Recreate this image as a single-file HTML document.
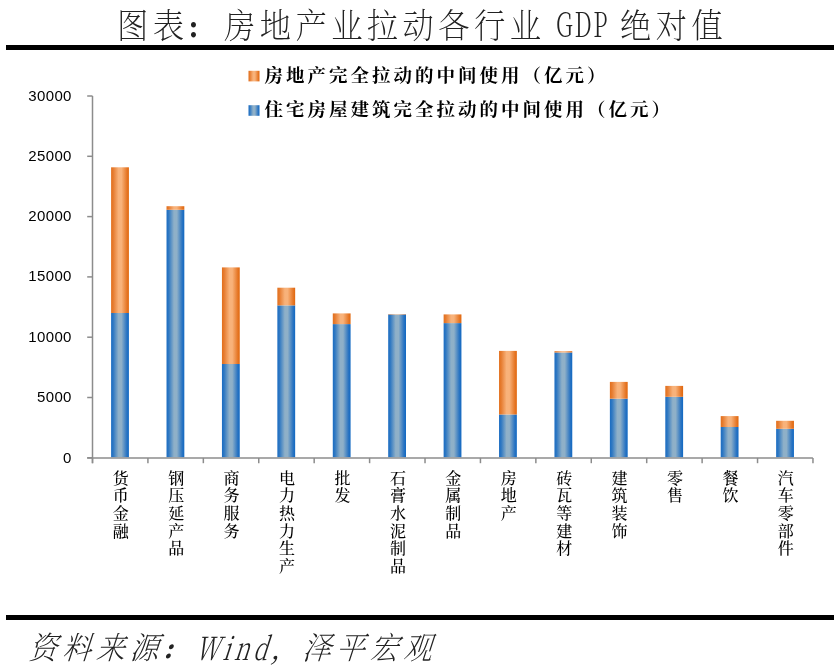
<!DOCTYPE html>
<html lang="zh-CN"><head><meta charset="utf-8"><title>图表：房地产业拉动各行业 GDP 绝对值</title>
<style>
html,body{margin:0;padding:0;background:#fff;}
body{width:838px;height:667px;position:relative;overflow:hidden;font-family:"Liberation Sans","Noto Sans CJK SC",sans-serif;color:#000;}
.abs{position:absolute;white-space:nowrap;}
.g{position:absolute;left:0;top:0;width:838px;height:667px;filter:grayscale(1);}
.col{font-size:.78em;font-weight:900;letter-spacing:0;display:inline-block;width:1em;margin-right:calc(.282em + 4.8px);position:relative;left:-2px;top:0.4px;}
.rule{position:absolute;left:6px;width:828px;height:5px;background:#000;}
.title{font-family:"Liberation Serif","Noto Serif CJK SC",serif;font-weight:200;font-size:34px;line-height:40px;top:6.8px;color:#222;}
.src{font-family:"Liberation Serif","Noto Serif CJK SC",serif;font-weight:200;font-size:31.3px;line-height:40px;top:629px;color:#222;transform:skewX(-18deg);transform-origin:0 50%;}
.leg{font-family:"Liberation Serif","Noto Serif CJK SC",serif;font-weight:700;font-size:18.5px;line-height:22px;letter-spacing:3.0px;left:264.6px;}
.yl{position:absolute;left:19.8px;width:52px;text-align:right;font-size:15px;letter-spacing:0.35px;line-height:18px;height:18px;}
.xl{position:absolute;top:469.6px;width:20px;text-align:center;word-break:break-all;line-break:anywhere;font-family:"Liberation Serif","Noto Serif CJK SC",serif;font-weight:500;font-size:16px;line-height:17.65px;}
svg{position:absolute;left:0;top:0;}
</style></head><body>
<div class="g">
<div class="abs title" id="t1" style="left:117px;letter-spacing:4.8px;transform:scaleX(0.92);transform-origin:0 50%">图表<span class="col">：</span>房地产业拉动各行业</div>
<div class="abs title" id="t2" style="left:556.4px;top:2.8px;font-family:'Noto Serif CJK SC','Liberation Serif',serif;font-size:34px;font-weight:300;letter-spacing:3.2px;transform:scaleX(0.66);transform-origin:0 50%;">GDP</div>
<div class="abs title" id="t3" style="left:619.5px;letter-spacing:4.8px;transform:scaleX(0.92);transform-origin:0 50%">绝对值</div>
</div>
<div class="rule" style="top:45px"></div>
<svg width="838" height="667" viewBox="0 0 838 667">
<defs>
<linearGradient id="gb" x1="0" x2="1" y1="0" y2="0"><stop offset="0" stop-color="#1a6cc2"/><stop offset="0.12" stop-color="#2f78c2"/><stop offset="0.42" stop-color="#8fb0c8"/><stop offset="0.58" stop-color="#8fb0c8"/><stop offset="0.88" stop-color="#2a74c2"/><stop offset="1" stop-color="#1068c2"/></linearGradient>
<linearGradient id="go" x1="0" x2="1" y1="0" y2="0"><stop offset="0" stop-color="#e26f1c"/><stop offset="0.12" stop-color="#e67c30"/><stop offset="0.42" stop-color="#f8b27a"/><stop offset="0.58" stop-color="#f8b27a"/><stop offset="0.88" stop-color="#e67828"/><stop offset="1" stop-color="#e0660c"/></linearGradient>
</defs>
<g><rect x="111.10" y="313.00" width="17.8" height="144.30" fill="url(#gb)"/><rect x="111.10" y="167.30" width="17.8" height="145.70" fill="url(#go)"/><rect x="166.52" y="209.80" width="17.8" height="247.50" fill="url(#gb)"/><rect x="166.52" y="206.20" width="17.8" height="3.60" fill="url(#go)"/><rect x="221.94" y="364.00" width="17.8" height="93.30" fill="url(#gb)"/><rect x="221.94" y="267.40" width="17.8" height="96.60" fill="url(#go)"/><rect x="277.36" y="305.40" width="17.8" height="151.90" fill="url(#gb)"/><rect x="277.36" y="287.70" width="17.8" height="17.70" fill="url(#go)"/><rect x="332.78" y="324.10" width="17.8" height="133.20" fill="url(#gb)"/><rect x="332.78" y="313.40" width="17.8" height="10.70" fill="url(#go)"/><rect x="388.20" y="314.50" width="17.8" height="142.80" fill="url(#gb)"/><rect x="388.20" y="314.10" width="17.8" height="0.40" fill="url(#go)"/><rect x="443.62" y="323.10" width="17.8" height="134.20" fill="url(#gb)"/><rect x="443.62" y="314.40" width="17.8" height="8.70" fill="url(#go)"/><rect x="499.04" y="414.50" width="17.8" height="42.80" fill="url(#gb)"/><rect x="499.04" y="350.90" width="17.8" height="63.60" fill="url(#go)"/><rect x="554.46" y="352.50" width="17.8" height="104.80" fill="url(#gb)"/><rect x="554.46" y="351.20" width="17.8" height="1.30" fill="url(#go)"/><rect x="609.88" y="398.70" width="17.8" height="58.60" fill="url(#gb)"/><rect x="609.88" y="381.90" width="17.8" height="16.80" fill="url(#go)"/><rect x="665.30" y="396.80" width="17.8" height="60.50" fill="url(#gb)"/><rect x="665.30" y="385.90" width="17.8" height="10.90" fill="url(#go)"/><rect x="720.72" y="427.00" width="17.8" height="30.30" fill="url(#gb)"/><rect x="720.72" y="416.10" width="17.8" height="10.90" fill="url(#go)"/><rect x="776.14" y="428.80" width="17.8" height="28.50" fill="url(#gb)"/><rect x="776.14" y="420.80" width="17.8" height="8.00" fill="url(#go)"/></g>
<g fill="none" stroke="#8c8c8c" stroke-width="1.5"><path d="M92.5 96 V463.2" /><path d="M87.2 457.9 H812.9" /><path d="M87.2 96.00 H92.5" /><path d="M87.2 156.30 H92.5" /><path d="M87.2 216.60 H92.5" /><path d="M87.2 276.90 H92.5" /><path d="M87.2 337.20 H92.5" /><path d="M87.2 397.50 H92.5" /><path d="M87.2 457.80 H92.5" /><path d="M92.50 457.9 V463.2" /><path d="M147.92 457.9 V463.2" /><path d="M203.34 457.9 V463.2" /><path d="M258.76 457.9 V463.2" /><path d="M314.18 457.9 V463.2" /><path d="M369.60 457.9 V463.2" /><path d="M425.02 457.9 V463.2" /><path d="M480.44 457.9 V463.2" /><path d="M535.86 457.9 V463.2" /><path d="M591.28 457.9 V463.2" /><path d="M646.70 457.9 V463.2" /><path d="M702.12 457.9 V463.2" /><path d="M757.54 457.9 V463.2" /><path d="M812.96 457.9 V463.2" /></g>
<rect x="248.5" y="70.8" width="11" height="10.6" fill="url(#go)"/>
<rect x="248.5" y="105.2" width="11" height="10.6" fill="url(#gb)"/>
</svg>
<div class="g">
<div class="abs leg" style="top:64.8px">房地产完全拉动的中间使用（亿元）</div>
<div class="abs leg" style="top:99.1px">住宅房屋建筑完全拉动的中间使用（亿元）</div>
<div class="yl" style="top:87px">30000</div><div class="yl" style="top:147px">25000</div><div class="yl" style="top:207px">20000</div><div class="yl" style="top:267px">15000</div><div class="yl" style="top:328px">10000</div><div class="yl" style="top:388px">5000</div><div class="yl" style="top:449px">0</div>
<div class="xl" style="left:110.8px">货币金融</div><div class="xl" style="left:166.2px">钢压延产品</div><div class="xl" style="left:221.6px">商务服务</div><div class="xl" style="left:277.1px">电力热力生产</div><div class="xl" style="left:332.5px">批发</div><div class="xl" style="left:387.9px">石膏水泥制品</div><div class="xl" style="left:443.3px">金属制品</div><div class="xl" style="left:498.7px">房地产</div><div class="xl" style="left:554.2px">砖瓦等建材</div><div class="xl" style="left:609.6px">建筑装饰</div><div class="xl" style="left:665.0px">零售</div><div class="xl" style="left:720.4px">餐饮</div><div class="xl" style="left:775.8px">汽车零部件</div>
<div class="rule" style="top:615px"></div>
<div class="abs src" id="s1" style="left:31.4px;letter-spacing:5.33px;transform:skewX(-18deg) scaleX(0.92)">资料来源<span class="col">：</span></div>
<div class="abs src" id="s2" style="left:198.8px;top:626.2px;font-family:'Noto Serif CJK SC','Liberation Serif',serif;font-size:32px;font-weight:300;letter-spacing:5.5px;transform:skewX(-18deg) scaleX(0.72);">Wind</div>
<div class="abs src" id="s3" style="left:273px;">，</div>
<div class="abs src" id="s4" style="left:305px;letter-spacing:5.33px;transform:skewX(-18deg) scaleX(0.92)">泽平宏观</div>
</div>
</body></html>
